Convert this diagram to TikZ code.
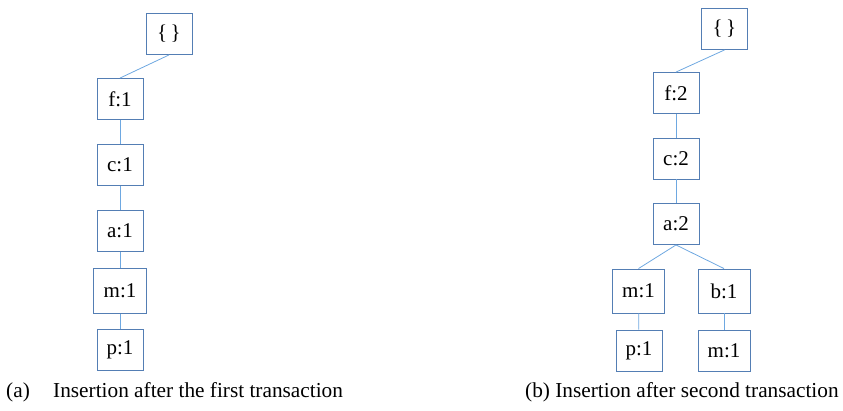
\documentclass[tikz,border=0pt]{standalone}
\usepackage{fontspec}
\setmainfont{Liberation Serif}
\definecolor{boxline}{RGB}{84,126,180}
\definecolor{edgeline}{RGB}{110,168,225}
\begin{document}
\begin{tikzpicture}[x=1pt,y=-1pt,
  item/.style={draw=boxline,line width=0.9pt,fill=white,inner sep=0pt,
    minimum width=46pt,minimum height=41pt,font=\fontsize{21}{24}\selectfont},
  wide/.style={item,minimum width=53pt,minimum height=45pt},
  link/.style={draw=edgeline,line width=0.8pt},
  captext/.style={inner sep=0pt,anchor=base west,font=\fontsize{21.3}{24}\selectfont}]
\useasboundingbox (0,0) rectangle (843,410);

% tree after the first transaction
\node[item] (lroot) at (169,34) {\{\,\}};
\node[item] (lf) at (120,99) {f:1};
\node[item] (lc) at (120,165) {c:1};
\node[item] (la) at (120,231) {a:1};
\node[wide] (lm) at (120,291) {m:1};
\node[item] (lp) at (120,350) {p:1};
\draw[link] (lroot.south) -- (lf.north);
\draw[link] (lf) -- (lc);
\draw[link] (lc) -- (la);
\draw[link] (la) -- (lm);
\draw[link] (lm) -- (lp);

% tree after the second transaction
\node[item] (rroot) at (724.5,29) {\{\,\}};
\node[item] (rf) at (676,93) {f:2};
\node[item] (rc) at (676,158.5) {c:2};
\node[item] (ra) at (676,224) {a:2};
\node[wide,minimum width=52pt,minimum height=44pt] (rm) at (638.5,291) {m:1};
\node[wide,minimum width=52pt,minimum height=44pt] (rb) at (724,291) {b:1};
\node[item] (rp) at (639,350.5) {p:1};
\node[wide,minimum width=52pt,minimum height=41pt] (rm2) at (724,350.5) {m:1};
\draw[link] (rroot.south) -- (rf.north);
\draw[link] (rf) -- (rc);
\draw[link] (rc) -- (ra);
\draw[link] (ra.south) -- (rm.north);
\draw[link] (ra.south) -- (rb.north);
\draw[link] (rm) -- (rp);
\draw[link] (rb) -- (rm2);

% captions
\node[captext] (capa) at (6,397) {\makebox[47pt][l]{(a)}Insertion after the first transaction};
\node[captext] (capb) at (525,397) {(b) Insertion after second transaction};
\end{tikzpicture}
\end{document}
